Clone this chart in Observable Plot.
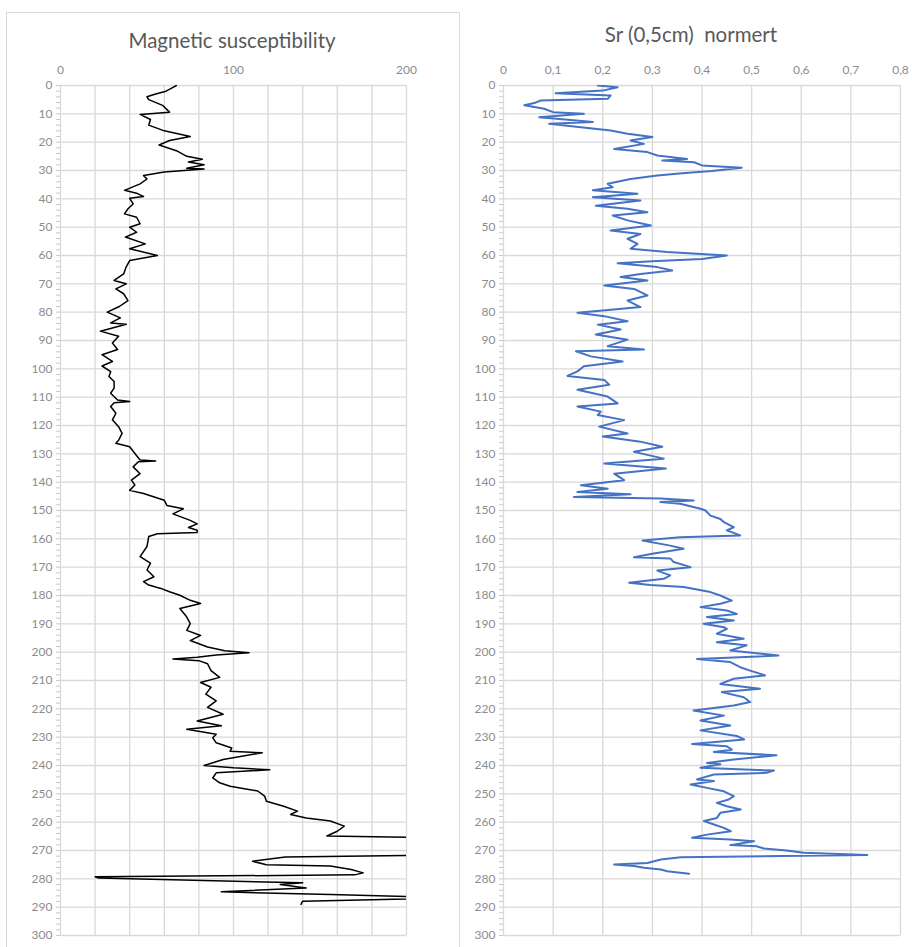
<!DOCTYPE html>
<html>
<head>
<meta charset="utf-8">
<script src="https://cdn.jsdelivr.net/npm/d3@7"></script>
<script src="https://cdn.jsdelivr.net/npm/@observablehq/plot@0.6"></script>
<style>
  html, body { margin: 0; padding: 0; background: #fff; }
  #wrap { position: relative; width: 912px; height: 947px; overflow: hidden; font-family: Lato, "Open Sans", sans-serif; }
  .panel { position: absolute; }
  .title { position: absolute; color: #595959; font-size: 20.5px; white-space: pre; transform: translate(-50%, -50%); }
  .border { position: absolute; border: 1px solid #d9d9d9; }
</style>
</head>
<body>
<div id="wrap">
  <div class="border" style="left:6px; top:12px; width:452px; height:960px;"></div>
  <div class="title" style="left:232px; top:40px;">Magnetic susceptibility</div>
  <div class="title" style="left:691px; top:34px;">Sr (0,5cm)  normert</div>
  <div class="panel" id="left" style="left:0px; top:0px;"></div>
  <div class="panel" id="right" style="left:460px; top:0px;"></div>
</div>
<script>
// Magnetic susceptibility: depth (cm) and value
const magDepth = [0,1,2,3,4,5,7,9.4,10.2,12,14,16,18,19.4,21,23,25,26,27,28,29.2,29.5,30.5,31.8,33,34.7,37,38,39.2,39.8,41.8,43.5,45.3,46.5,48.8,50,51.8,53.5,55.9,57.6,60,61.8,64,66.5,68.8,70,71.8,73.5,75.9,78,80,82,83.8,84.3,86.7,88.5,90.9,93.2,95,97.4,99,101,102.7,104.5,106.8,108.6,111,111.5,112,113.3,115.7,118,120.4,122.8,125.2,126.3,127.5,129.9,132.2,132.5,132.8,134.6,137,139.3,141,142.9,144,146.4,148.2,149.4,151.2,153.5,154.7,156,157,157.8,158.2,159.2,162.7,166.3,168.6,171,173.4,175.1,176.3,177.5,178.7,179.9,181.7,182.8,184.6,187.6,189.9,192.3,194.1,195.9,198.2,199.5,200.2,201,201.8,202.4,203,204.1,206.5,208.9,210.7,212.4,214.8,217.2,219.5,221.9,224.3,226,227.2,229,230.2,232,233.8,235,235.5,237.9,240,240.8,241.5,242.6,244.4,246.1,247.3,249,250.8,252.6,254.4,256.1,257.3,258.5,259.6,261.4,263.2,264.9,265.6,271.5,272.3,273.8,275,275.5,276.7,277.9,278.6,279.3,279.7,281.4,282,283.2,284.6,285.5,286.7,287.9,289];
const magValue = [67,64,61,55,50,51,59,63,46,52,51,60,75,63,57,67,73,82,74,83,73,83,60,48,50,46,37,44,48,40,42,39,37,44,46,40,44,37.5,49,40,56,40,38,36.5,31,38,32,36.5,39,34,27,34.6,29,38,23,33.6,30,33,24,30,24,29,28,31,31,29,33,40,31,29,32,30,33.6,35.6,33.6,32,40,43,46,55,45,42,46,41,43,40,48,60,61.5,71,65,75,79,74,79,79,56,51,50,46,52,50,54,48,51,58,63,69,75,81,69,73,75,73,81,75,85,95,109,90,79,65,80,85,87,92,81,87,84,90,85,94,79,93,73,90,88,90,99,98,116.6,94,83,100,121,90,88,92,98,114,118,119,129,137,133,142,156,164,160,154,230,230,130,111,119,156,168,175,170,20,22,140,127,142,93,156,230,140,139];

// Sr (0,5cm) normert: depth (cm) and value
const srDepth = [0,0.6,1.8,2.7,3.5,4.7,5.3,6.2,7,8.2,9.4,10,11.2,12.1,12.9,13.5,14.7,15.9,17,18.2,19.4,20.6,22.4,23.5,24.7,25.9,26.5,27.1,28.2,29,30.2,31,31.8,33,34.7,35.9,37,38.2,39.4,40.6,42.4,43.5,44.7,45.9,47.6,49.4,51.2,52.4,54.1,55.9,57.6,58.8,60,61.2,62,62.7,64.1,65.3,66.5,67.6,68.8,70.6,71.8,74.1,75.9,78.2,79.4,80.2,81.4,83.2,84.4,86.1,87.9,89.7,92,93.2,93.8,95.6,97.4,99.1,100.9,102.5,103.9,105.6,107.4,109.8,112.2,113.3,115.1,116.3,118.1,120.4,122.8,123.9,125.7,127.5,129.3,131.7,133.4,135.2,137,139.3,141.1,142.3,143.5,144.3,145.2,145.8,146.5,147,147.6,149.4,150,151.8,153,154.1,155.9,157,158.8,159.4,160.6,162.4,163.5,165.3,166.5,166.9,168.2,170,171.2,172.9,174.1,175.5,176.3,177,178.8,180,181.8,182.9,184.1,185.3,186.5,187.6,188.8,190,191.2,191.8,193.5,195.3,196.5,197.6,199.4,201.2,202.4,203.5,205.3,206.5,208.2,209.4,211.2,212.9,214.1,215.9,217.6,218.8,220.6,222.4,224.1,225.9,227.6,229.6,230.8,232.4,233.2,234.4,235.2,236.4,237.9,239.1,239.6,240.8,241.8,242.6,243.2,244.9,245.5,246.7,247.9,249.1,250.8,252,253.2,254.4,255.5,256.7,258.5,259.6,260.8,262,263.2,264.4,265.5,266.1,266.7,268.1,268.5,269.3,270,270.8,271.6,272.4,273.2,274.4,274.9,275.5,276.1,276.7,277.3,278.2];
const srValue = [0.19,0.23,0.20,0.105,0.216,0.21,0.075,0.062,0.042,0.082,0.10,0.162,0.072,0.13,0.18,0.092,0.156,0.216,0.25,0.30,0.256,0.283,0.223,0.29,0.31,0.37,0.32,0.384,0.40,0.48,0.42,0.36,0.31,0.256,0.21,0.22,0.18,0.27,0.18,0.276,0.186,0.25,0.29,0.22,0.25,0.297,0.216,0.276,0.25,0.27,0.256,0.33,0.45,0.40,0.30,0.23,0.31,0.34,0.276,0.236,0.29,0.203,0.263,0.29,0.25,0.276,0.20,0.149,0.203,0.25,0.19,0.236,0.186,0.25,0.21,0.283,0.146,0.176,0.24,0.162,0.149,0.129,0.203,0.213,0.149,0.21,0.23,0.149,0.196,0.19,0.243,0.193,0.25,0.2,0.276,0.32,0.263,0.323,0.203,0.327,0.223,0.243,0.156,0.21,0.149,0.256,0.142,0.317,0.383,0.316,0.356,0.397,0.407,0.417,0.437,0.444,0.464,0.45,0.477,0.356,0.28,0.336,0.363,0.3,0.263,0.336,0.343,0.377,0.31,0.336,0.323,0.253,0.296,0.363,0.417,0.437,0.46,0.437,0.397,0.45,0.47,0.41,0.464,0.403,0.444,0.45,0.43,0.484,0.43,0.49,0.457,0.554,0.39,0.457,0.477,0.497,0.527,0.464,0.437,0.517,0.44,0.484,0.497,0.464,0.383,0.444,0.397,0.457,0.397,0.47,0.485,0.38,0.45,0.46,0.424,0.55,0.464,0.41,0.437,0.397,0.545,0.53,0.424,0.39,0.424,0.377,0.41,0.444,0.464,0.454,0.43,0.45,0.478,0.437,0.43,0.404,0.424,0.444,0.458,0.41,0.38,0.457,0.505,0.457,0.51,0.525,0.57,0.605,0.733,0.357,0.317,0.29,0.223,0.263,0.283,0.317,0.33,0.374];

// Tick values
const depthTicks = d3.range(0, 301, 10);
const depthMinor = d3.range(0, 301, 2);
const magGrid = d3.range(0, 201, 20);
const magLabels = [0, 100, 200];
const srTicks = d3.range(0, 9).map(i => i / 10);

const mag = magDepth.map((d, i) => ({depth: d, value: magValue[i]}));
const sr = srDepth.map((d, i) => ({depth: d, value: srValue[i]}));

const gridColor = "#d9d9d9";
const labelColor = "#8c8c8c";
const fontFamily = "Lato, 'Open Sans', sans-serif";

function yAxisMarks() {
  return [
    Plot.gridY(depthTicks, {stroke: gridColor, strokeOpacity: 1, strokeWidth: 1.3}),
    Plot.axisY(depthMinor, {
      anchor: "left", label: null, tickSize: 4, tickPadding: 4, stroke: "#c8c8c8",
      fill: labelColor, fontSize: 12,
      tickFormat: d => d % 10 === 0 ? String(d) : ""
    })
  ];
}

const leftChart = Plot.plot({
  width: 458, height: 947,
  marginLeft: 60, marginRight: 52, marginTop: 85, marginBottom: 12,
  style: {fontFamily, background: "transparent"},
  x: {domain: [0, 200], label: null},
  y: {domain: [0, 300], reverse: true, label: null},
  marks: [
    Plot.gridX(magGrid, {stroke: gridColor, strokeOpacity: 1, strokeWidth: 1.3}),
    ...yAxisMarks(),
    Plot.axisX(magLabels, {anchor: "top", label: null, tickSize: 0, tickPadding: 12, fill: labelColor, fontSize: 12}),
    Plot.line(mag, {x: "value", y: "depth", stroke: "#000", strokeWidth: 1.5, clip: true})
  ]
});
document.getElementById("left").appendChild(leftChart);

const rightChart = Plot.plot({
  width: 452, height: 947,
  marginLeft: 43, marginRight: 12, marginTop: 85, marginBottom: 12,
  style: {fontFamily, background: "transparent"},
  x: {domain: [0, 0.8], label: null},
  y: {domain: [0, 300], reverse: true, label: null},
  marks: [
    Plot.gridX(srTicks, {stroke: gridColor, strokeOpacity: 1, strokeWidth: 1.3}),
    ...yAxisMarks(),
    Plot.axisX(srTicks, {anchor: "top", label: null, tickSize: 0, tickPadding: 12, fill: labelColor, fontSize: 12,
      tickFormat: d => d === 0 ? "0" : d3.format(".1f")(d).replace(".", ",")}),
    Plot.line(sr, {x: "value", y: "depth", stroke: "#4472c4", strokeWidth: 2, clip: true})
  ]
});
document.getElementById("right").appendChild(rightChart);
</script>
</body>
</html>
